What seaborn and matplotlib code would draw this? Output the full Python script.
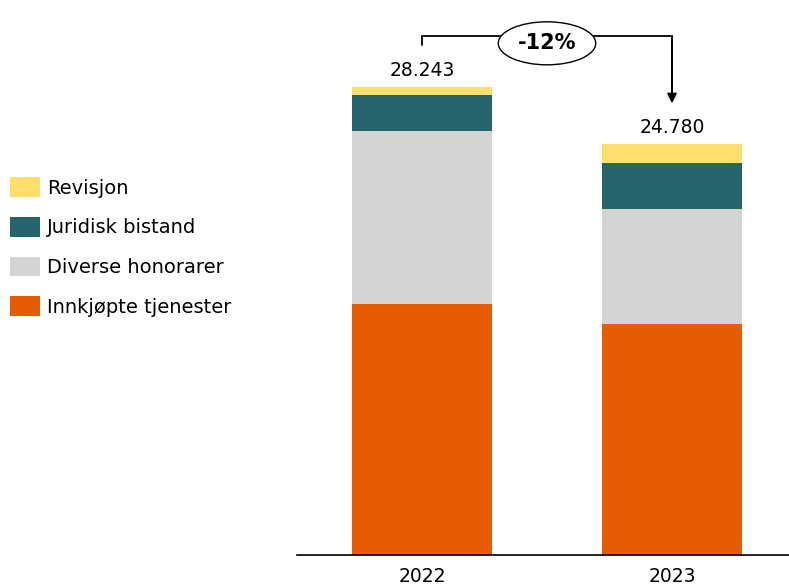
import numpy as np
import pandas as pd
import matplotlib
matplotlib.use("Agg")
import matplotlib.pyplot as plt
from matplotlib.patches import Patch
import seaborn as sns

# data (NOK 1000), bottom-up order
years = ["2022", "2023"]
categories = ["Innkjøpte tjenester", "Diverse honorarer", "Juridisk bistand", "Revisjon"]
innkjopte = [15130, 13930]
diverse = [10440, 6975]
juridisk = [2173, 2750]
revisjon = [500, 1125]
totals = [28243, 24780]

colors = {
    "Innkjøpte tjenester": "#E65C00",
    "Diverse honorarer": "#D4D4D4",
    "Juridisk bistand": "#25646A",
    "Revisjon": "#FFDE6E",
}

df = pd.DataFrame({
    "year": years,
    "Innkjøpte tjenester": innkjopte,
    "Diverse honorarer": diverse,
    "Juridisk bistand": juridisk,
    "Revisjon": revisjon,
})

sns.set_style("white")
plt.rcParams["font.family"] = ["DejaVu Sans"]
plt.rcParams["text.color"] = "black"

fig = plt.figure(figsize=(7.89, 5.86), dpi=100)
ax = fig.add_axes([297 / 789, 31 / 586, 1 - 297 / 789, (555 - 20) / 586])

# stacked bars: draw cumulative heights from the top layer down
cum = df[categories].cumsum(axis=1)
for cat in categories[::-1]:
    sns.barplot(x=df["year"], y=cum[cat], color=colors[cat], width=0.56,
                saturation=1, ax=ax, linewidth=0)

fmt = lambda v: f"{v:,.0f}".replace(",", ".")
for i, t in enumerate(totals):
    ax.annotate(fmt(t), (i, t), xytext=(0, 5), textcoords="offset points",
                ha="center", va="bottom", fontsize=13.5, color="black")

# change bracket
top = max(totals)
y_start = top * 1.09
y_line = top * 1.11
ax.plot([0, 0, 1, 1], [y_start, y_line, y_line, top * 0.985],
        color="black", lw=1.3, solid_joinstyle="miter")
ax.annotate("", xy=(1, totals[0] * 0.965), xytext=(1, y_line * 0.99),
            arrowprops=dict(arrowstyle="-|>", color="black", lw=1.3,
                            mutation_scale=14, shrinkA=0, shrinkB=0))
pct = (totals[1] - totals[0]) / totals[0] * 100
ax.text(0.5, y_line * 0.985, f"{pct:.0f}%", ha="center", va="center",
        fontsize=15, fontweight="bold", color="black",
        bbox=dict(boxstyle="ellipse,pad=0.25", fc="white", ec="black", lw=1))

ax.set_ylim(0, (555 - 20) * top / (555 - 87))
ax.set_xlim(-0.5, (789 - 422) / 250)
ax.set_xlabel("")
ax.set_ylabel("")
ax.set_yticks([])
ax.tick_params(axis="x", length=0, pad=9, labelsize=13.5, labelcolor="black")
for s in ["top", "right", "left"]:
    ax.spines[s].set_visible(False)
ax.spines["bottom"].set_color("black")
ax.spines["bottom"].set_linewidth(1.2)

handles = [Patch(facecolor=colors[c], edgecolor="none") for c in categories[::-1]]
fig.legend(handles, categories[::-1], loc="upper left",
           bbox_to_anchor=(10 / 789, (586 - 177) / 586), frameon=False,
           fontsize=14, handlelength=1.55, handleheight=1.2, labelcolor="black",
           handletextpad=0.35, labelspacing=0.99, borderpad=0, borderaxespad=0)

fig.savefig("out.png", dpi=100)
